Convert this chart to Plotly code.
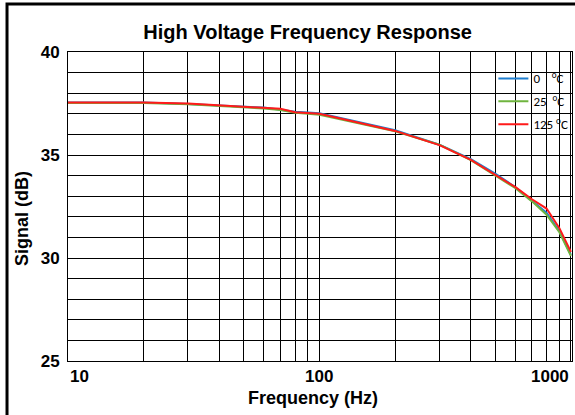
import math
import plotly.graph_objects as go

# Frequency points (Hz)
freq = [10, 20, 30, 40, 50, 60, 70, 80, 90, 100,
        200, 300, 400, 500, 600, 700, 800, 900, 1000]

# Signal (dB) per temperature
sig_0c = [37.55, 37.55, 37.48, 37.40, 37.35, 37.30, 37.20, 37.10, 37.06, 37.03,
          36.20, 35.50, 34.80, 34.10, 33.45, 32.80, 32.20, 31.30, 30.15]
sig_25c = [37.53, 37.52, 37.46, 37.38, 37.32, 37.26, 37.18, 37.05, 37.00, 36.95,
           36.15, 35.50, 34.75, 34.00, 33.40, 32.75, 32.10, 31.25, 30.10]
sig_125c = [37.55, 37.55, 37.50, 37.42, 37.35, 37.28, 37.24, 37.08, 37.04, 37.00,
            36.17, 35.48, 34.76, 34.05, 33.45, 32.85, 32.40, 31.45, 30.30]

x_grid = [10, 20, 30, 40, 50, 60, 70, 80, 90,
          100, 200, 300, 400, 500, 600, 700, 800, 900, 1000]
x_labels = [10, 100, 1000]
y_grid = list(range(25, 41))
y_labels = [25, 30, 35, 40]

NB = "\u00a0"
series = [
    (sig_0c,   f"0{NB}{NB}{NB} <sup>o</sup>C",  "#1f7fd0"),
    (sig_25c,  f"25{NB} <sup>o</sup>C",         "#6fb43f"),
    (sig_125c, f"125 <sup>o</sup>C",            "#ff1a1a"),
]

FONT = "Liberation Sans, Arial, sans-serif"

fig = go.Figure()
for i, (vals, name, color) in enumerate(series):
    fig.add_trace(go.Scatter(
        x=freq, y=vals, name=name, mode="lines",
        legendgroup=str(i),
        line=dict(color=color, width=2),
    ))

# x tick labels, Excel-style alignment
anchors = {10: "left", 100: "center", 1000: "right"}
for v in x_labels:
    fig.add_annotation(
        x=math.log10(v), y=0, xref="x", yref="paper",
        yshift=-15, text=str(v), showarrow=False,
        xanchor=anchors[v], yanchor="middle",
        font=dict(family=FONT, size=17, color="black", weight="bold"),
    )

fig.add_annotation(
    x=0.487, y=-0.12, xref="paper", yref="paper",
    xanchor="center", yanchor="middle",
    text="Frequency (Hz)", showarrow=False,
    font=dict(family=FONT, size=18, color="black", weight="bold"),
)
fig.add_annotation(
    x=-0.091, y=0.46, xref="paper", yref="paper", textangle=-90,
    xanchor="center", yanchor="middle",
    text="Signal (dB)", showarrow=False,
    font=dict(family=FONT, size=18, color="black", weight="bold"),
)

# outer frame
fig.add_shape(
    type="rect", xref="paper", yref="paper",
    x0=-0.121, x1=1.03, y0=-0.25, y1=1.155,
    line=dict(color="black", width=3), fillcolor="rgba(0,0,0,0)",
)

fig.update_layout(
    width=575, height=415,
    margin=dict(l=68, r=3, t=52, b=54, autoexpand=False),
    paper_bgcolor="white", plot_bgcolor="white",
    font=dict(family=FONT, color="black"),
    title=dict(
        text="<b>High Voltage Frequency Response</b>",
        x=0.535, xanchor="center", y=0.923, yanchor="middle",
        font=dict(family=FONT, size=20, color="black"),
    ),
    xaxis=dict(
        type="log", range=[1, math.log10(1010)],
        tickvals=x_grid, ticktext=["" for _ in x_grid],
        showgrid=True, gridcolor="black", gridwidth=1,
        showline=True, linecolor="black", linewidth=1, mirror=True,
        ticks="", zeroline=False,
    ),
    yaxis=dict(
        range=[25, 40],
        tickvals=y_grid,
        ticktext=[str(v) if v in y_labels else "" for v in y_grid],
        tickfont=dict(family=FONT, size=17, color="black", weight="bold"),
        showgrid=True, gridcolor="black", gridwidth=1,
        showline=True, linecolor="black", linewidth=1, mirror=True,
        ticks="", ticklabelstandoff=4, zeroline=False,
    ),
    legend=dict(
        x=0.844, y=0.963, xanchor="left", yanchor="top",
        bgcolor="rgba(0,0,0,0)", borderwidth=0,
        tracegroupgap=3, itemwidth=30,
        font=dict(family="Carlito, Lato, sans-serif", size=13, color="black"),
    ),
    showlegend=True,
)

fig.write_html(
    "out.html",
    config={"displayModeBar": False},
    post_script="document.body.style.margin='0';",
)
